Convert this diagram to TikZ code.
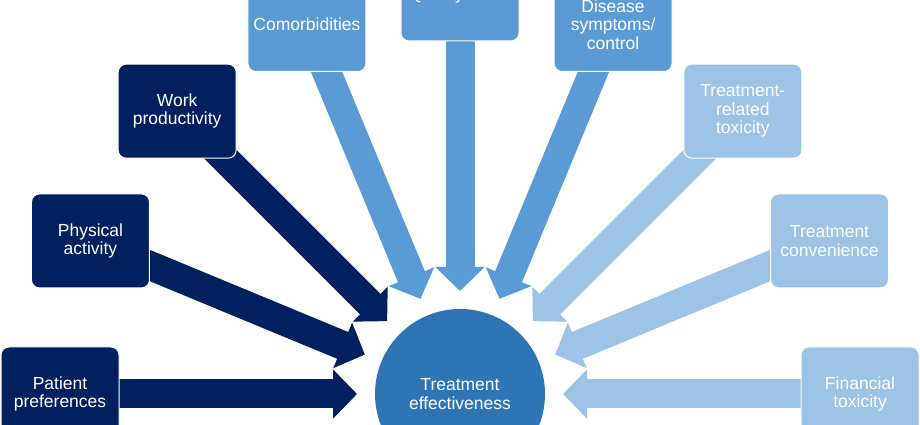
\documentclass[tikz,border=0pt]{standalone}
\usepackage{fontspec}
\setmainfont{Liberation Sans}
\usetikzlibrary{arrows.meta,backgrounds}
\definecolor{navy}{RGB}{0,32,96}
\definecolor{midblue}{RGB}{91,155,213}
\definecolor{lightblue}{RGB}{157,195,230}
\definecolor{circblue}{RGB}{46,117,182}
\begin{document}
\begin{tikzpicture}[x=1pt,y=1pt,
  box/.style={rectangle, rounded corners=8pt, minimum width=118pt, minimum height=94pt,
    draw=white, line width=1pt, text=white, align=center,
    font=\fontsize{17.5}{18.5}\selectfont, inner sep=0pt},
  blockarrow/.style={line width=29pt, -{Triangle[width=48pt,length=24pt]}}]
\useasboundingbox (0,0) rectangle (920,425);
\coordinate (O) at (460,31);
% central circle
\node[circle, minimum size=170pt, fill=circblue, text=white, align=center, inner sep=0pt,
  font=\fontsize{17.5}{18.5}\selectfont] (te) at (O) {Treatment\\effectiveness};
% boxes
\path (O) ++(180:400) node[box, fill=navy] (pp) {Patient\\preferences};
\path (O) ++(157.5:400) node[box, fill=navy] (pa) {Physical\\activity};
\path (O) ++(135:400) node[box, fill=navy] (wp) {Work\\productivity};
\path (O) ++(112.5:400) node[box, fill=midblue] (cm) {Comorbidities};
\path (O) ++(90:400) node[box, fill=midblue] (ql) {\smash{\raisebox{-5.5pt}{Quality of life}}};
\path (O) ++(67.5:400) node[box, fill=midblue] (ds) {Disease\\symptoms/\\control};
\path (O) ++(45:400) node[box, fill=lightblue] (tr) {Treatment-\\related\\toxicity};
\path (O) ++(22.5:400) node[box, fill=lightblue] (tc) {Treatment\\convenience};
\path (O) ++(0:400) node[box, fill=lightblue] (ft) {Financial\\toxicity};
% arrow tips
\path (O) ++(180:103) coordinate (tpp);
\path (O) ++(157.5:103) coordinate (tpa);
\path (O) ++(135:103) coordinate (twp);
\path (O) ++(112.5:103) coordinate (tcm);
\path (O) ++(90:103) coordinate (tql);
\path (O) ++(67.5:103) coordinate (tds);
\path (O) ++(45:103) coordinate (ttr);
\path (O) ++(22.5:103) coordinate (ttc);
\path (O) ++(0:103) coordinate (tft);
\begin{scope}[on background layer]
\draw[blockarrow, navy] (pp.center) -- (tpp);
\draw[blockarrow, navy] (pa.center) -- (tpa);
\draw[blockarrow, navy] (wp.center) -- (twp);
\draw[blockarrow, midblue] (cm.center) -- (tcm);
\draw[blockarrow, midblue] (ql.center) -- (tql);
\draw[blockarrow, midblue] (ds.center) -- (tds);
\draw[blockarrow, lightblue] (tr.center) -- (ttr);
\draw[blockarrow, lightblue] (tc.center) -- (ttc);
\draw[blockarrow, lightblue] (ft.center) -- (tft);
\end{scope}
\end{tikzpicture}
\end{document}
